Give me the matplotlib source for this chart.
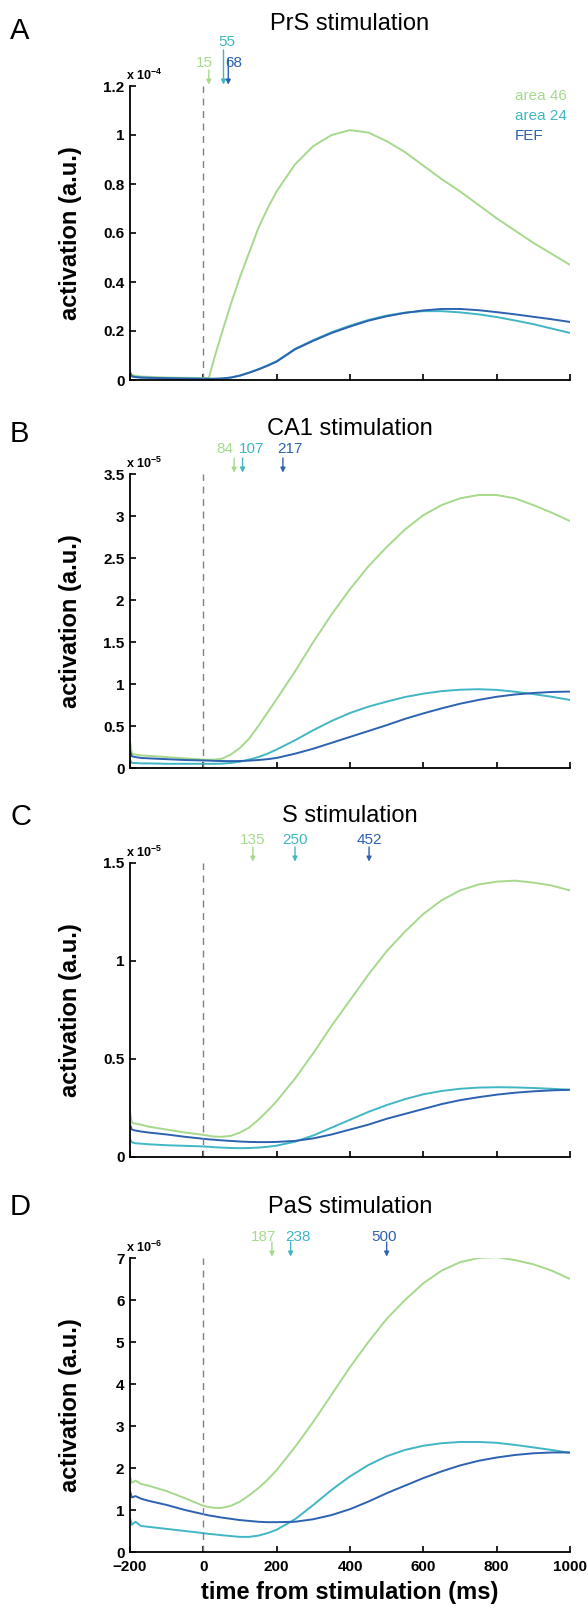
import matplotlib
matplotlib.use("Agg")
import matplotlib.pyplot as plt
import numpy as np

plt.rcParams['font.family'] = ['Liberation Sans', 'DejaVu Sans']
plt.rcParams['mathtext.fontset'] = 'custom'
plt.rcParams['mathtext.rm'] = 'Liberation Sans'
plt.rcParams['mathtext.bf'] = 'Liberation Sans:bold'

# ---- data ----
t_ms = [-200, -195, -185, -170, -150, -100, -50, 0, 15, 30, 50, 75, 100, 125, 150, 175,
        200, 250, 300, 350, 400, 450, 500, 550, 600, 650, 700, 750, 800, 850, 900, 950, 1000]

regions = ["area 46", "area 24", "FEF"]
panel_letters = ["A", "B", "C", "D"]
panel_titles = ["PrS stimulation", "CA1 stimulation", "S stimulation", "PaS stimulation"]
exponents = [-4, -5, -5, -6]
y_max = [1.2, 3.5, 1.5, 7]
y_ticks = [[0, 0.2, 0.4, 0.6, 0.8, 1, 1.2],
           [0, 0.5, 1, 1.5, 2, 2.5, 3, 3.5],
           [0, 0.5, 1, 1.5],
           [0, 1, 2, 3, 4, 5, 6, 7]]
x_ticks = [-200, 0, 200, 400, 600, 800, 1000]

# onset latencies (ms) per panel: area 46, area 24, FEF
latencies = [[15, 55, 68], [84, 107, 217], [135, 250, 452], [187, 238, 500]]

# PrS (x 1e-4)
prs_46 = [0.035, 0.02, 0.018, 0.014, 0.013, 0.010, 0.009, 0.008, 0.008, 0.09, 0.19, 0.31, 0.42, 0.52,
          0.62, 0.70, 0.77, 0.88, 0.955, 1.0, 1.02, 1.01, 0.975, 0.93, 0.875, 0.82, 0.77, 0.715,
          0.66, 0.61, 0.56, 0.515, 0.47]
prs_24 = [0.028, 0.015, 0.012, 0.010, 0.009, 0.007, 0.006, 0.005, 0.005, 0.005, 0.006, 0.010, 0.018,
          0.030, 0.044, 0.060, 0.077, 0.127, 0.163, 0.195, 0.222, 0.245, 0.263, 0.275, 0.281, 0.281,
          0.276, 0.268, 0.257, 0.243, 0.228, 0.21, 0.192]
prs_fef = [0.03, 0.015, 0.012, 0.010, 0.009, 0.007, 0.006, 0.005, 0.005, 0.005, 0.006, 0.010, 0.018,
           0.030, 0.043, 0.058, 0.075, 0.125, 0.160, 0.192, 0.218, 0.242, 0.260, 0.274, 0.284, 0.290,
           0.290, 0.285, 0.277, 0.268, 0.258, 0.248, 0.237]

# CA1 (x 1e-5)
ca1_46 = [0.32, 0.17, 0.16, 0.15, 0.145, 0.13, 0.115, 0.10, 0.10, 0.10, 0.11, 0.16, 0.24, 0.35, 0.50,
          0.66, 0.82, 1.15, 1.50, 1.83, 2.13, 2.40, 2.63, 2.84, 3.01, 3.13, 3.21, 3.25, 3.25, 3.21,
          3.13, 3.04, 2.94]
ca1_24 = [0.10, 0.06, 0.06, 0.055, 0.055, 0.05, 0.05, 0.05, 0.05, 0.05, 0.052, 0.06, 0.075, 0.10,
          0.13, 0.17, 0.22, 0.33, 0.45, 0.56, 0.655, 0.73, 0.79, 0.845, 0.885, 0.915, 0.932, 0.938,
          0.93, 0.908, 0.88, 0.848, 0.81]
ca1_fef = [0.20, 0.14, 0.13, 0.12, 0.115, 0.105, 0.095, 0.09, 0.088, 0.085, 0.083, 0.082, 0.083,
           0.088, 0.095, 0.105, 0.12, 0.17, 0.23, 0.30, 0.37, 0.44, 0.51, 0.585, 0.65, 0.71, 0.765,
           0.81, 0.848, 0.875, 0.893, 0.905, 0.91]

# S (x 1e-5)
s_46 = [0.23, 0.175, 0.17, 0.165, 0.155, 0.14, 0.125, 0.113, 0.108, 0.104, 0.103, 0.108, 0.125, 0.15,
        0.19, 0.235, 0.285, 0.40, 0.53, 0.67, 0.80, 0.93, 1.05, 1.15, 1.24, 1.31, 1.36, 1.39, 1.405,
        1.41, 1.40, 1.385, 1.36]
s_24 = [0.09, 0.075, 0.07, 0.068, 0.065, 0.06, 0.057, 0.054, 0.052, 0.05, 0.048, 0.046, 0.045, 0.046,
        0.048, 0.052, 0.058, 0.078, 0.11, 0.15, 0.19, 0.23, 0.265, 0.295, 0.32, 0.337, 0.348, 0.354,
        0.356, 0.355, 0.352, 0.348, 0.343]
s_fef = [0.165, 0.14, 0.135, 0.13, 0.125, 0.115, 0.103, 0.093, 0.09, 0.088, 0.085, 0.082, 0.079, 0.077,
         0.076, 0.076, 0.077, 0.082, 0.095, 0.115, 0.14, 0.165, 0.195, 0.22, 0.245, 0.27, 0.29, 0.305,
         0.318, 0.328, 0.335, 0.34, 0.343]

# PaS (x 1e-6)
pas_46 = [1.80, 1.65, 1.70, 1.62, 1.58, 1.45, 1.28, 1.10, 1.07, 1.05, 1.05, 1.10, 1.20, 1.35, 1.52,
          1.72, 1.95, 2.50, 3.10, 3.75, 4.40, 5.00, 5.55, 6.00, 6.40, 6.70, 6.90, 7.00, 7.02, 6.95,
          6.85, 6.70, 6.50]
pas_24 = [0.80, 0.65, 0.72, 0.62, 0.60, 0.55, 0.50, 0.45, 0.43, 0.42, 0.40, 0.38, 0.36, 0.36, 0.39,
          0.45, 0.53, 0.78, 1.12, 1.48, 1.80, 2.07, 2.28, 2.43, 2.53, 2.59, 2.62, 2.62, 2.60, 2.55,
          2.49, 2.43, 2.36]
pas_fef = [1.45, 1.30, 1.33, 1.27, 1.22, 1.12, 1.00, 0.90, 0.87, 0.85, 0.82, 0.79, 0.76, 0.74, 0.72,
           0.71, 0.71, 0.72, 0.78, 0.88, 1.02, 1.20, 1.40, 1.58, 1.76, 1.92, 2.06, 2.17, 2.25, 2.31,
           2.35, 2.37, 2.37]

panel_data = [[prs_46, prs_24, prs_fef],
              [ca1_46, ca1_24, ca1_fef],
              [s_46, s_24, s_fef],
              [pas_46, pas_24, pas_fef]]

colors = ['#a6d98b', '#41b6c4', '#2c62b0']

# ---- layout (pixels on a 588 x 1613 canvas) ----
W, H = 588, 1613
ax_left, ax_right = 130, 570
ax_bottoms = [380, 768, 1157, 1552]
ax_height = 294
title_px = [30, 435, 822, 1213]          # title baselines
letter_px = [17, 420, 803, 1193]         # panel letter tops
# label x (ms) and label/arrow heights above axes (px) for each latency marker
label_x = [[4, 63, 84], [59, 131, 237], [135, 250, 452], [164, 259, 492]]
label_h = [[23, 44, 23], [25, 25, 25], [23, 23, 23], [21, 21, 21]]
arrow_len = [[16, 36, 28], [16, 16, 16], [16, 16, 16], [16, 16, 16]]

fig = plt.figure(figsize=(W / 100, H / 100), dpi=100)

for i in range(4):
    ax = fig.add_axes([ax_left / W, 1 - ax_bottoms[i] / H, (ax_right - ax_left) / W, ax_height / H])
    for j in range(3):
        ax.plot(t_ms, panel_data[i][j], color=colors[j], lw=1.4, solid_capstyle='round',
                solid_joinstyle='round')
    ax.axvline(0, ymin=0, ymax=1, color='#808080', lw=1.0, ls=(0, (5, 4)))

    ax.set_xlim(-200, 1000)
    ax.set_ylim(0, y_max[i])
    ax.set_xticks(x_ticks)
    ax.set_yticks(y_ticks[i])
    ax.set_yticklabels([('%g' % v) for v in y_ticks[i]])
    for s in ['top', 'right']:
        ax.spines[s].set_visible(False)
    for s in ['left', 'bottom']:
        ax.spines[s].set_linewidth(1.3)
    ax.tick_params(direction='in', length=4, width=1.2, labelsize=11)
    ax.tick_params(axis='y', pad=4)
    ax.tick_params(axis='x', pad=6)
    for lab in ax.get_xticklabels() + ax.get_yticklabels():
        lab.set_fontweight('bold')
    if i < 3:
        ax.tick_params(axis='x', labelbottom=False)
    else:
        ax.set_xticklabels(['\u2212200', '0', '200', '400', '600', '800', '1000'], fontweight='bold')
        ax.set_xlabel('time from stimulation (ms)', fontsize=17, fontweight='bold', labelpad=5)

    ax.set_ylabel('activation (a.u.)', fontsize=17, fontweight='bold')
    ax.yaxis.set_label_coords(-0.109, 0.5)

    # exponent label
    ax.annotate('x 10$^{\\mathbf{%d}}$' % exponents[i], xy=(0, 1), xycoords='axes fraction',
                xytext=(-4, 11), textcoords='offset pixels', ha='left', va='center',
                fontsize=9, fontweight='bold', annotation_clip=False)

    # title and letter
    fig.text(((ax_left + ax_right) / 2) / W, 1 - title_px[i] / H, panel_titles[i],
             ha='center', va='baseline', fontsize=17)
    fig.text(10 / W, 1 - letter_px[i] / H, panel_letters[i], ha='left', va='top', fontsize=21)

    # latency markers
    xtr = ax.get_xaxis_transform()
    for j in range(3):
        lat = latencies[i][j]
        ax.annotate('', xy=(lat, 1), xycoords=xtr, xytext=(0, arrow_len[i][j]),
                    textcoords='offset pixels',
                    arrowprops=dict(arrowstyle='-|>', color=colors[j], lw=1.0,
                                    shrinkA=0, shrinkB=1, mutation_scale=7),
                    annotation_clip=False)
        ax.annotate(str(lat), xy=(label_x[i][j], 1), xycoords=xtr, xytext=(0, label_h[i][j]),
                    textcoords='offset pixels', ha='center', va='center', color=colors[j],
                    fontsize=11, annotation_clip=False)

    # legend text in first panel
    if i == 0:
        for j in range(3):
            fig.text(515 / W, 1 - (96 + 20 * j) / H, regions[j], color=colors[j],
                     ha='left', va='center', fontsize=11)

fig.savefig('out.png', dpi=100)
